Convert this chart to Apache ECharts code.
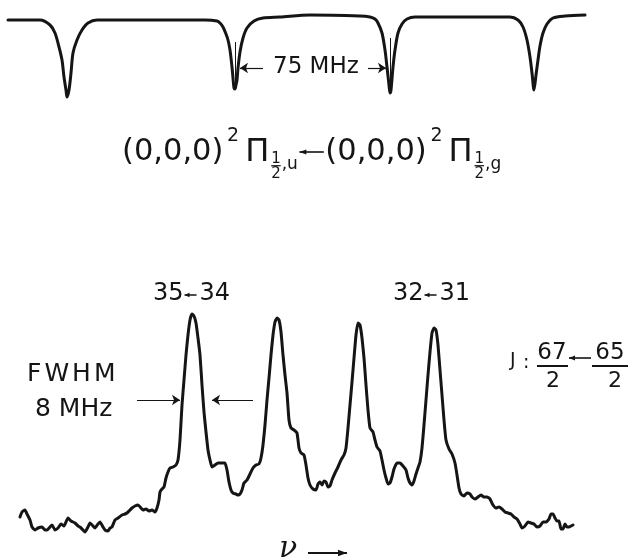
<!DOCTYPE html>
<html>
<head>
<meta charset="utf-8">
<script src="https://cdn.jsdelivr.net/npm/echarts@6/dist/echarts.min.js"></script>
<style>
html,body{margin:0;padding:0;background:#ffffff;}
#chart{width:631px;height:560px;}
</style>
</head>
<body>
<div id="chart"></div>
<script>
// ---------------- DATA ----------------
// Upper trace: reference cavity transmission (sweep channel vs. signal, a.u.)
const topSweep = [8, 40, 50, 55, 59, 62, 64, 66, 67, 69,
  71, 73, 77, 82, 88, 97, 150, 205, 217, 220,
  223, 226, 228, 230, 232, 233, 234, 235, 236, 237,
  238, 240, 243, 247, 254, 263, 280, 310, 360, 370,
  375, 378, 382, 385, 387, 389, 390, 391, 393, 395,
  398, 402, 407, 415, 470, 510, 518, 523, 527, 530,
  532, 534, 536, 538, 540, 543, 547, 553, 565, 585];
const topSignal = [90, 90, 85, 77, 63, 50, 33, 20, 13, 20,
  37, 57, 70, 80, 87, 90, 90, 90, 89, 87,
  83, 76, 70, 60, 43, 32, 22, 21, 25, 30,
  42, 58, 72, 82, 89, 92, 93, 95, 94, 93,
  91, 87, 77, 60, 43, 25, 17, 20, 43, 60,
  77, 86, 91, 93, 93, 93, 90, 83, 70, 53,
  37, 20, 35, 50, 64, 77, 86, 92, 94, 95];

// Lower trace: spectrum (sweep channel vs. intensity, a.u.)
const spectrumSweep = [20, 22, 25, 27, 30, 32, 35, 38, 42, 45,
  47, 50, 52, 55, 58, 61, 64, 68, 71, 75,
  78, 80, 83, 85, 88, 90, 93, 95, 98, 100,
  103, 105, 108, 110, 112, 115, 118, 122, 125, 127,
  130, 132, 135, 138, 141, 143, 146, 149, 152, 155,
  157, 159, 160, 162, 164, 166, 168, 170, 173, 176,
  178, 180, 182, 184, 186, 188, 190, 192, 194, 196,
  198, 200, 202, 204, 206, 208, 210, 212, 215, 218,
  222, 225, 227, 229, 231, 233, 236, 238, 240, 242,
  244, 247, 250, 253, 256, 259, 261, 263, 265, 267,
  269, 271, 273, 275, 277, 279, 281, 283, 285, 287,
  289, 291, 294, 297, 299, 301, 304, 306, 308, 310,
  313, 316, 318, 320, 322, 324, 326, 328, 330, 332,
  335, 338, 341, 344, 346, 348, 350, 352, 354, 356,
  358, 360, 362, 364, 366, 368, 370, 373, 375, 377,
  380, 382, 384, 386, 388, 390, 392, 394, 397, 400,
  403, 406, 408, 410, 412, 414, 416, 418, 420, 422,
  424, 426, 428, 430, 432, 434, 436, 438, 440, 442,
  444, 446, 449, 452, 455, 457, 459, 461, 464, 467,
  470, 472, 475, 478, 481, 484, 487, 490, 493, 496,
  499, 502, 505, 508, 511, 514, 517, 520, 522, 525,
  528, 531, 534, 537, 540, 543, 546, 549, 551, 553,
  555, 557, 559, 561, 563, 565, 567, 569, 571, 573];
const spectrumSignal = [23, 28, 30, 26, 20, 13, 10, 12, 13, 10,
  10, 13, 15, 10, 12, 16, 14, 22, 19, 17,
  14, 13, 10, 8, 13, 17, 14, 12, 16, 18,
  13, 10, 9, 12, 13, 20, 22, 25, 26, 27,
  30, 32, 34, 35, 32, 30, 31, 29, 30, 28,
  32, 40, 48, 51, 53, 62, 68, 72, 73, 75,
  80, 100, 135, 160, 185, 205, 220, 226, 224, 217,
  202, 185, 155, 128, 108, 90, 80, 73, 75, 77,
  77, 77, 70, 58, 50, 47, 46, 45, 46, 50,
  57, 60, 66, 72, 75, 76, 82, 95, 115, 140,
  162, 185, 205, 218, 222, 220, 208, 185, 165, 147,
  120, 112, 110, 107, 92, 87, 85, 75, 62, 55,
  51, 50, 56, 58, 55, 59, 58, 53, 54, 60,
  67, 73, 80, 85, 92, 112, 135, 158, 182, 205,
  217, 215, 202, 182, 155, 130, 112, 108, 100, 93,
  89, 80, 70, 62, 56, 57, 63, 71, 77, 77,
  74, 70, 62, 57, 55, 59, 66, 72, 78, 92,
  115, 140, 165, 188, 207, 212, 210, 195, 170, 145,
  120, 100, 91, 86, 77, 65, 52, 46, 44, 47,
  46, 43, 41, 43, 45, 43, 43, 41, 35, 32,
  33, 31, 28, 27, 26, 23, 21, 16, 12, 14,
  18, 17, 16, 13, 14, 18, 18, 21, 26, 26,
  22, 19, 19, 11, 11, 16, 13, 13, 14, 15];

// Annotations in data units
const markerSweep = [235, 390];          // thin frequency markers inside dips
const markerSpan = [[68, 27], [72, 28]];  // signal range of each marker
const spacingArrowLevel = 42;            // "75 MHz" arrows level (top trace units)
const spacingArrowFrom = [263, 368];
const spacingArrowTo = [240, 386];
const fwhmLevel = 140;                   // FWHM arrows level (spectrum units)
const fwhmArrowFrom = [137, 253];
const fwhmArrowTo = [180, 212];
const peakLabels = [['35', '34'], ['32', '31']];
const spacingLabel = '75 MHz';
const fwhmLabel = ['FWHM', '8 MHz'];

// ---------------- RENDER ----------------
const INK = '#151515';
const FAMILY = '"DejaVu Sans", "Liberation Sans", sans-serif';
const measureCtx = document.createElement('canvas').getContext('2d');
function textWidth(t, size, family) {
  measureCtx.font = size + 'px ' + (family || '"DejaVu Sans"');
  return measureCtx.measureText(t).width;
}
const graphics = [];
function addText(t, x, y, size, align, extra) {
  graphics.push({
    type: 'text', silent: true, x: x, y: y,
    style: Object.assign({
      text: t, fill: INK, fontSize: size, fontFamily: FAMILY,
      textAlign: align || 'left', textVerticalAlign: 'middle',
      align: align || 'left', verticalAlign: 'middle'
    }, extra || {})
  });
}
function addLine(x1, y1, x2, y2, lw) {
  graphics.push({ type: 'line', silent: true, shape: { x1: x1, y1: y1, x2: x2, y2: y2 },
    style: { stroke: INK, lineWidth: lw || 1.5 } });
}
function addArrow(x1, y1, x2, y2, head, half, lw) {
  addLine(x1, y1, x2, y2, lw);
  const dx = x2 - x1, dy = y2 - y1, L = Math.hypot(dx, dy), ux = dx / L, uy = dy / L;
  const bx = x2 - ux * head, by = y2 - uy * head;
  graphics.push({ type: 'polygon', silent: true,
    shape: { points: [[x2, y2], [bx - uy * half, by + ux * half], [bx + uy * half, by - ux * half]] },
    style: { fill: INK } });
}

// "75 MHz"
addText(spacingLabel, 273, 67, 23);

// Formula (0,0,0) ²Π_{1/2,u} ← (0,0,0) ²Π_{1/2,g}
const formulaLeft = 122, formulaRight = 503, formulaY = 152;
function layoutFormula(M, draw) {
  let x = formulaLeft;
  const cy = formulaY;
  ['u', 'g'].forEach(function (sym, i) {
    if (draw) addText('(0,0,0)', x, cy, M);
    x += textWidth('(0,0,0)', M) + M * 0.12;
    const sup = Math.round(M * 0.62);
    if (draw) addText('2', x, cy - M * 0.52, sup);
    x += textWidth('2', sup) + M * 0.2;
    if (draw) addText('Π', x, cy + 1, M * 1.05);
    x += textWidth('Π', M * 1.05) + M * 0.06;
    const fs = Math.round(M * 0.5);
    const fw = textWidth('2', fs);
    if (draw) {
      addText('1', x + fw / 2, cy + M * 0.22, fs, 'center');
      addLine(x, cy + M * 0.45, x + fw, cy + M * 0.45, 1.2);
      addText('2', x + fw / 2, cy + M * 0.72, fs, 'center');
    }
    x += fw + 1;
    const ss = Math.round(M * 0.55);
    if (draw) addText(',' + sym, x, cy + M * 0.42, ss);
    x += textWidth(',' + sym, ss);
    if (i === 0) {
      if (draw) addArrow(x + M * 0.85, cy, x + M * 0.05, cy, 7, 2.6, 1.6);
      x += M * 0.9;
    }
  });
  return x;
}
let bestM = 26, bestErr = 1e9;
for (let M = 18; M <= 40; M += 0.5) {
  const e = Math.abs(layoutFormula(M, false) - formulaRight);
  if (e < bestErr) { bestErr = e; bestM = M; }
}
layoutFormula(bestM, true);

// Peak labels "35←34", "32←31"
function peakLabel(pair, left, cy) {
  const s = 24;
  addText(pair[0], left, cy, s);
  let x = left + textWidth(pair[0], s) + 1;
  addArrow(x + 12, cy + 1, x, cy + 1, 5, 2.2, 1.5);
  x += 15;
  addText(pair[1], x, cy, s);
}
peakLabel(peakLabels[0], 153, 294);
peakLabel(peakLabels[1], 393, 294);

// FWHM label (letter-spaced)
(function () {
  let x = 27;
  fwhmLabel[0].split('').forEach(function (ch) {
    addText(ch, x, 374, 25);
    x += textWidth(ch, 25) + 3;
  });
})();
addText(fwhmLabel[1], 35, 409, 25);

// J: 67/2 ← 65/2
addText('J', 510, 361, 19);
addText(':', 523, 363, 19);
addText('67', 552, 353, 23, 'center');
addLine(537, 366, 568, 366, 2);
addText('2', 553, 381, 22, 'center');
addArrow(591, 358, 569, 358, 6, 2.4, 1.6);
addText('65', 610, 353, 23, 'center');
addLine(592, 366, 628, 366, 2);
addText('2', 615, 381, 22, 'center');

// ν →
addText('ν', 279, 549, 30, 'left', { fontFamily: '"DejaVu Serif", serif', fontStyle: 'italic' });
addArrow(308, 553, 347, 553, 9, 3.2, 2);

const chart = echarts.init(document.getElementById('chart'), null, { renderer: 'canvas' });
const zip = (xs, ys) => xs.map((x, i) => [x, ys[i]]);

chart.setOption({
  animation: false,
  backgroundColor: '#ffffff',
  grid: [
    { left: 0, width: 631, top: 10, height: 100 },
    { left: 0, width: 631, top: 290, height: 250 }
  ],
  xAxis: [
    { type: 'value', gridIndex: 0, min: 0, max: 631, show: false },
    { type: 'value', gridIndex: 1, min: 0, max: 631, show: false }
  ],
  yAxis: [
    { type: 'value', gridIndex: 0, min: 0, max: 100, show: false },
    { type: 'value', gridIndex: 1, min: 0, max: 250, show: false }
  ],
  series: [
    {
      name: 'reference', type: 'line', xAxisIndex: 0, yAxisIndex: 0,
      data: zip(topSweep, topSignal), showSymbol: false, smooth: 0.3,
      lineStyle: { color: INK, width: 3, join: 'round', cap: 'round' },
      silent: true,
      markLine: {
        silent: true, symbol: ['none', 'arrow'], symbolSize: 8,
        label: { show: false },
        lineStyle: { color: INK, width: 1.2, type: 'solid' },
        data: spacingArrowFrom.map((x, i) => [
          { coord: [x, spacingArrowLevel] },
          { coord: [spacingArrowTo[i], spacingArrowLevel] }
        ])
      }
    },
    {
      name: 'markers', type: 'line', xAxisIndex: 0, yAxisIndex: 0, data: [],
      silent: true,
      markLine: {
        silent: true, symbol: ['none', 'none'],
        label: { show: false },
        lineStyle: { color: INK, width: 1, type: 'solid' },
        data: markerSweep.map((x, i) => [
          { coord: [x, markerSpan[i][0]] },
          { coord: [x, markerSpan[i][1]] }
        ])
      }
    },
    {
      name: 'spectrum', type: 'line', xAxisIndex: 1, yAxisIndex: 1,
      data: zip(spectrumSweep, spectrumSignal), showSymbol: false, smooth: 0.15,
      lineStyle: { color: INK, width: 3, join: 'round', cap: 'round' },
      silent: true,
      markLine: {
        silent: true, symbol: ['none', 'arrow'], symbolSize: 8,
        label: { show: false },
        lineStyle: { color: INK, width: 1.2, type: 'solid' },
        data: fwhmArrowFrom.map((x, i) => [
          { coord: [x, fwhmLevel] },
          { coord: [fwhmArrowTo[i], fwhmLevel] }
        ])
      }
    }
  ],
  graphic: { elements: graphics }
});
</script>
</body>
</html>
